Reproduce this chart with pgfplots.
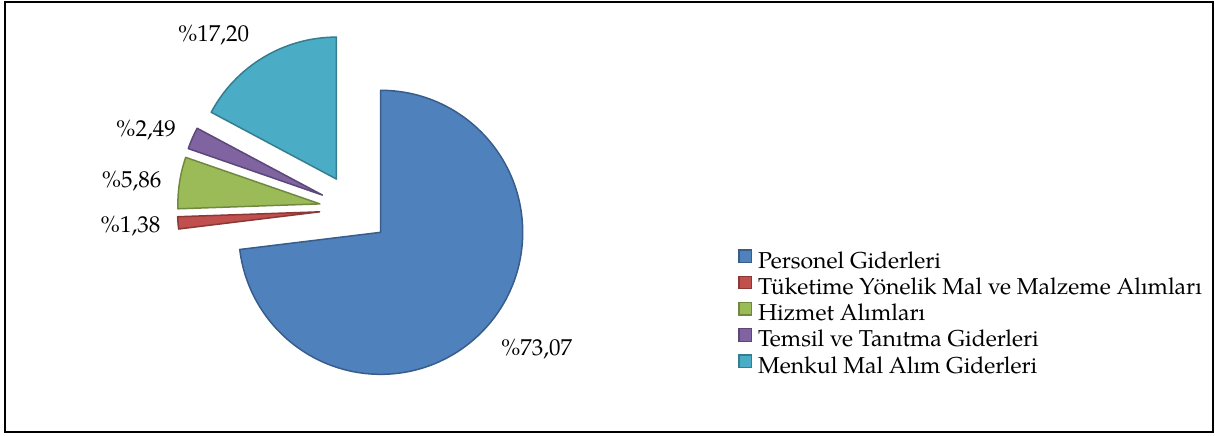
\documentclass[border=0pt]{standalone}
\usepackage{fontspec}
\setmainfont{TeX Gyre Pagella}
\usepackage{pgfplots}
\pgfplotsset{compat=1.18}

\definecolor{pblue}{HTML}{4F81BD}\definecolor{pblueD}{HTML}{385D8A}
\definecolor{pred}{HTML}{C0504D}\definecolor{predD}{HTML}{8C3836}
\definecolor{pgreen}{HTML}{9BBB59}\definecolor{pgreenD}{HTML}{71893F}
\definecolor{ppurple}{HTML}{8064A2}\definecolor{ppurpleD}{HTML}{5C4776}
\definecolor{pcyan}{HTML}{4BACC6}\definecolor{pcyanD}{HTML}{357D91}

% #1 cumulative share before the slice, #2 share (%), #3 fill, #4 border
\newcommand\slice[4]{%
  \filldraw[fill=#3, draw=#4, line width=0.75pt, line join=round]
    (axis cs:354.5,209.1) ++({90-3.6*(#1+#2/2)}:17.5pt)
    -- ++({90-3.6*(#1)}:71pt)
    arc[start angle={90-3.6*(#1)}, end angle={90-3.6*(#1+#2)}, radius=71pt]
    -- cycle;}

\begin{document}
\begin{tikzpicture}
\begin{axis}[
  x=0.5pt, y=0.5pt,
  xmin=0, xmax=1215, ymin=0, ymax=435,
  y dir=reverse,
  hide axis, clip=false,
  legend cell align=left,
  legend image code/.code={\draw[#1, line width=0.6pt] (0pt,0.5pt) rectangle (6.2pt,6.7pt);},
  legend style={at={(axis cs:738,249)}, anchor=north west, draw=none, fill=none,
    inner sep=0pt, column sep=3pt, row sep=0pt,
    font=\fontsize{11.5}{13}\selectfont,
    nodes={inner sep=0pt, text height=8.5pt, text depth=3.75pt}},
]
\path (axis cs:0,0) rectangle (axis cs:1215,435);

\addlegendimage{fill=pblue, draw=pblueD}
\addlegendentry{Personel Giderleri}
\addlegendimage{fill=pred, draw=predD}
\addlegendentry{Tüketime Yönelik Mal ve Malzeme Alımları}
\addlegendimage{fill=pgreen, draw=pgreenD}
\addlegendentry{Hizmet Alımları}
\addlegendimage{fill=ppurple, draw=ppurpleD}
\addlegendentry{Temsil ve Tanıtma Giderleri}
\addlegendimage{fill=pcyan, draw=pcyanD}
\addlegendentry{Menkul Mal Alım Giderleri}

% shares: 73.07, 1.38, 5.86, 2.49, 17.20
\slice{0}{73.07}{pblue}{pblueD}
\slice{73.07}{1.38}{pred}{predD}
\slice{74.45}{5.86}{pgreen}{pgreenD}
\slice{80.31}{2.49}{ppurple}{ppurpleD}
\slice{82.80}{17.20}{pcyan}{pcyanD}

\begin{scope}[every node/.style={font=\fontsize{11.5}{13}\selectfont, anchor=base, inner sep=0pt}]
\node at (axis cs:536.7,355) {\%73,07};
\node at (axis cs:130.5,232.7) {\%1,38};
\node at (axis cs:131.7,187.3) {\%5,86};
\node at (axis cs:146,136.7) {\%2,49};
\node at (axis cs:213.7,41.7) {\%17,20};
\end{scope}

\draw[black, line width=1pt] (axis cs:5,1.5) rectangle (axis cs:1213,432);
\end{axis}
\end{tikzpicture}
\end{document}
